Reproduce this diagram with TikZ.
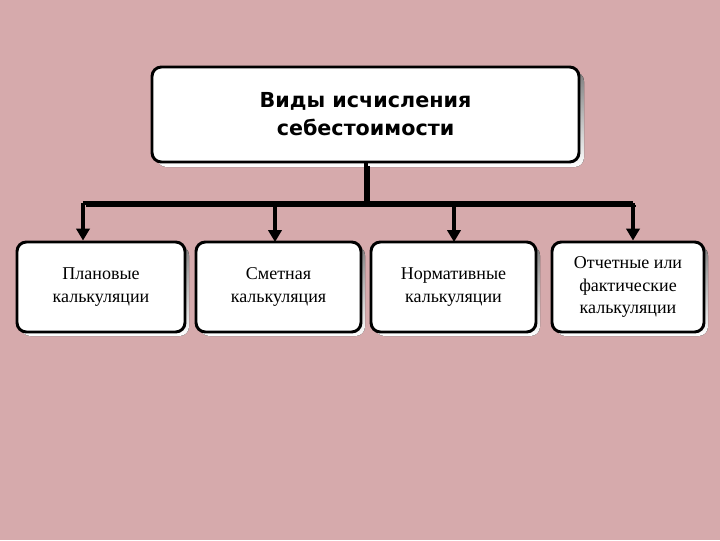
\documentclass[tikz,border=0pt]{standalone}
\usepackage{fontspec}
\setmainfont{Liberation Serif}
\newfontfamily\titlefont{DejaVu Sans}
\usetikzlibrary{arrows.meta}
\definecolor{bg}{RGB}{214,170,172}
\definecolor{shade}{RGB}{160,140,142}
\tikzset{
 box/.style={draw=black,line width=2.2pt,fill=white,rounded corners=7pt,align=center},
 conn/.style={line width=2.4pt,draw=black},
 arr/.style={conn,-{Triangle[length=9pt,width=10pt]}},
}
\begin{document}
\begin{tikzpicture}[x=0.75pt,y=-0.75pt]
\useasboundingbox (0,0) rectangle (720,540);
\fill[bg] (0,0) rectangle (720,540);
% shadows
\fill[shade,rounded corners=7pt] (157,72) rectangle (584,167);
\foreach \a/\b in {17/185,196/361,371/536,552/704}
  \fill[shade,rounded corners=7pt] (\a+4,246) rectangle (\b+4,336);
\draw[line width=1.5pt,shade] (369,166) -- (369,206) (86,206) -- (636,206);
% top
\node[box,minimum width=427*0.75pt,minimum height=95*0.75pt,font=\titlefont\bfseries\fontsize{15.5}{21}\selectfont] (top) at (365.5,114.5) {Виды исчисления\\себестоимости};
\node[box,minimum width=168*0.75pt,minimum height=90*0.75pt,font=\fontsize{13.5}{17}\selectfont] (b1) at (101,287) {Плановые\\калькуляции};
\node[box,minimum width=165*0.75pt,minimum height=90*0.75pt,font=\fontsize{13.5}{17}\selectfont] (b2) at (278.5,287) {Сметная\\калькуляция};
\node[box,minimum width=165*0.75pt,minimum height=90*0.75pt,font=\fontsize{13.5}{17}\selectfont] (b3) at (453.5,287) {Нормативные\\калькуляции};
\node[box,minimum width=152*0.75pt,minimum height=90*0.75pt,font=\fontsize{13.5}{17}\selectfont] (b4) at (628,287) {Отчетные или\\фактические\\калькуляции};
\coordinate (j) at (366,203);
\coordinate (l) at (83,203);
\coordinate (r) at (633,203);
\draw[conn] (top.south -| j) -- (j);
\draw[conn] (l) -- (r);
\draw[arr] (l) -- (l |- b1.north);
\draw[arr] (275,203) -- (275,242);
\draw[arr] (454,203) -- (454,242);
\draw[arr] (r) -- (r |- b4.north);
\end{tikzpicture}
\end{document}
